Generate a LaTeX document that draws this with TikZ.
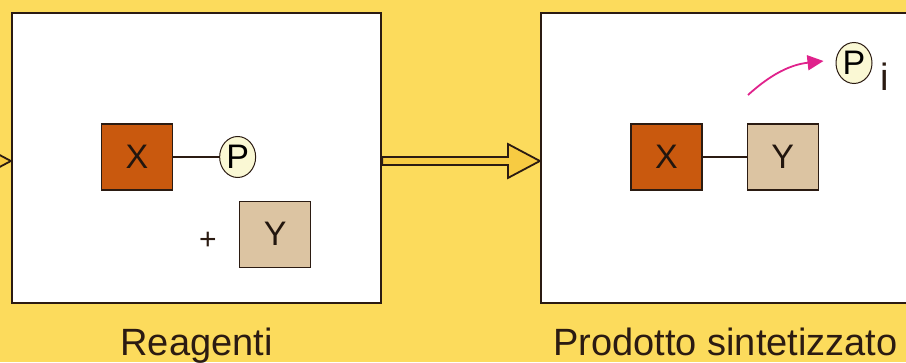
\documentclass[tikz,border=0pt]{standalone}
\usepackage{fontspec}
\setmainfont{Liberation Sans}
\usepackage{tikz}
\usetikzlibrary{arrows.meta,positioning,calc,shapes.geometric}
\definecolor{sfondo}{HTML}{FCDB5C}
\definecolor{bordo}{HTML}{2B1B12}
\definecolor{mattone}{HTML}{C9590E}
\definecolor{sabbia}{HTML}{DCC4A2}
\definecolor{crema}{HTML}{FAF8D4}
\definecolor{fucsia}{HTML}{E0228C}
\definecolor{ocra}{HTML}{F7CB42}
% freccia vuota da #1 a #2
\newcommand{\freccia}[2]{%
  \draw[vuota] ($(#1)+(0,1)$) -- ($(#2)+(-32,1)$) -- ($(#2)+(-32,14)$)
    -- ($(#2)+(0,-3)$) -- ($(#2)+(-32,-20)$) -- ($(#2)+(-32,-7)$)
    -- ($(#1)+(0,-7)$) -- cycle;}

\begin{document}
\begin{tikzpicture}[x=1pt,y=1pt,
  scatola/.style={draw=bordo,fill=white,line width=2.2pt,inner sep=0pt,
                  minimum width=369pt,minimum height=290pt},
  mol/.style={draw=bordo,line width=1.3pt,minimum width=71pt,minimum height=66pt,
              inner sep=0pt,font=\fontsize{34}{34}\selectfont,text=bordo!80!black},
  fosf/.style={ellipse,draw=bordo,fill=crema,line width=1pt,minimum width=36pt,
               minimum height=41pt,inner sep=0pt,font=\fontsize{34}{34}\selectfont},
  lbl/.style={font=\fontsize{38}{40}\selectfont,text=bordo},
  legame/.style={line width=1.2pt,color=bordo},
  vuota/.style={draw=bordo,fill=ocra,line width=1.8pt,line join=miter},
  rilascio/.style={-{Triangle[length=16pt,width=15pt]},line width=1.8pt,color=fucsia}]
\useasboundingbox (0,0) rectangle (906,362);
\fill[sfondo] (0,0) rectangle (906,362);
\clip (0,0) rectangle (906,362);

% riquadri
\node[scatola] (L) at (196.5,204) {};
\node[scatola] (R) at (725.5,204) {};
\node[lbl,below=20pt of L] (lr) {Reagenti};
\node[lbl,below=20pt of R] (lp) {Prodotto sintetizzato};

% frecce
\coordinate (entrata) at (-80,204);
\freccia{entrata}{L.west}
\freccia{L.east}{R.west}

% reagenti
\node[mol,fill=mattone] (X) at (137,205) {X};
\node[fosf,right=46pt of X] (P) {P};
\node[mol,fill=sabbia,below right=10pt and 66pt of X] (Y) {Y};
\node[font=\fontsize{30}{30}\selectfont,text=bordo] (piu) at (208,121) {+};
\draw[legame] (X) -- (P);

% prodotto
\node[mol,fill=mattone] (X2) at (666.5,205) {X};
\node[mol,fill=sabbia,right=44pt of X2] (Y2) {Y};
\draw[legame] (X2) -- (Y2);
\node[fosf] (Pi) at (854,299) {P};
\node[lbl,anchor=base west] (sub) at ([xshift=4pt,yshift=-28pt]Pi.east) {i};
\coordinate (rel) at (748,267);
\draw[rilascio] (rel) to[bend left=18] ([xshift=-12pt,yshift=2pt]Pi.west);
\end{tikzpicture}
\end{document}
